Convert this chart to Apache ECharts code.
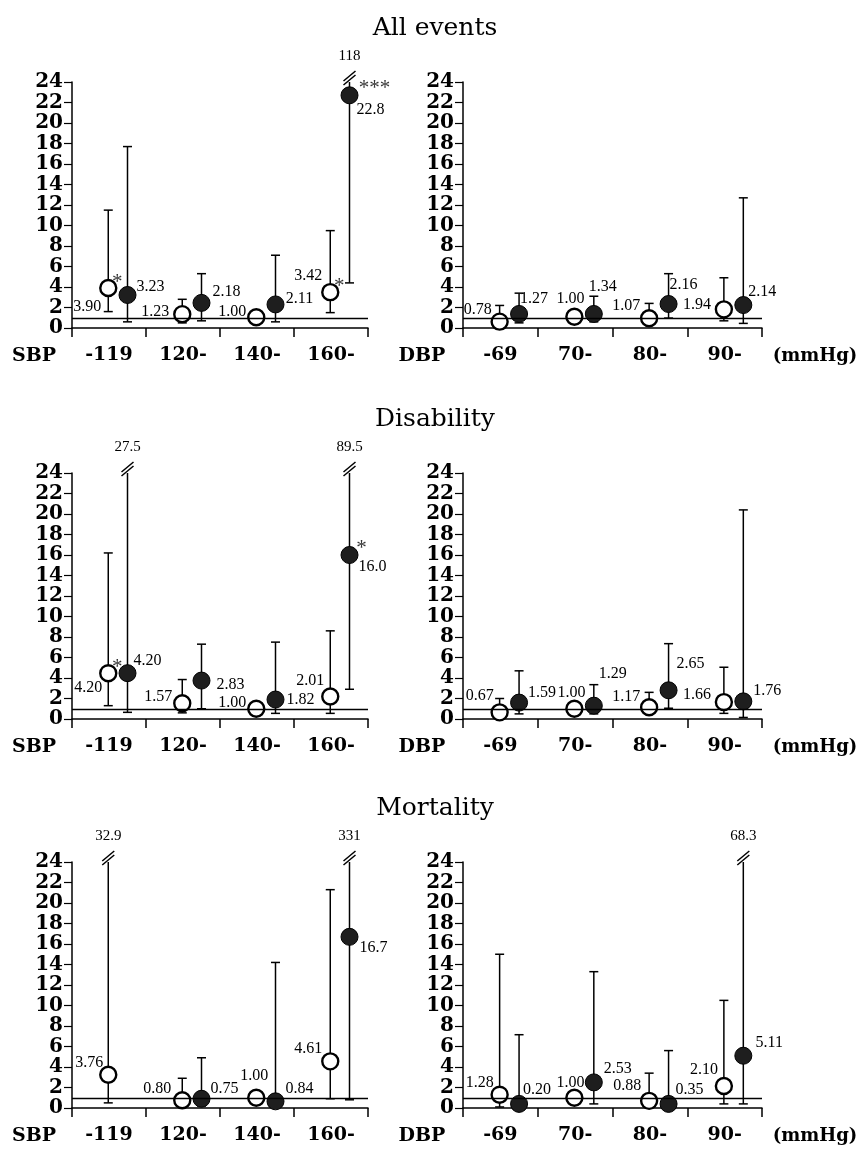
<!DOCTYPE html>
<html>
<head>
<meta charset="utf-8">
<script src="https://cdn.jsdelivr.net/npm/echarts@6/dist/echarts.min.js"></script>
<style>
html, body { margin: 0; padding: 0; background: #fff; }
#chart { width: 862px; height: 1149px; }
</style>
</head>
<body>
<div id="chart"></div>
<script>
// categories
const sbpCats = ['-119', '120-', '140-', '160-'];
const dbpCats = ['-69', '70-', '80-', '90-'];
const titles = ['All events', 'Disability', 'Mortality'];

// All events - SBP
const allSbpOpen = [3.9, 1.35, 1.05, 3.5];
const allSbpOpenCI = [[1.6, 11.5], [0.5, 2.8], null, [1.5, 9.5]];
const allSbpOpenText = ['3.90', '1.23', '1.00', '3.42'];
const allSbpOpenSig = ['*', '', '', '*'];
const allSbpFill = [3.22, 2.45, 2.3, 22.7];
const allSbpFillCI = [[0.6, 17.7], [0.7, 5.3], [0.6, 7.1], [4.4, 118]];
const allSbpFillText = ['3.23', '2.18', '2.11', '22.8'];
const allSbpFillSig = ['', '', '', '***'];

// All events - DBP
const allDbpOpen = [0.62, 1.1, 0.95, 1.82];
const allDbpOpenCI = [[0.3, 2.2], null, [0.4, 2.4], [0.7, 4.9]];
const allDbpOpenText = ['0.78', '1.00', '1.07', '1.94'];
const allDbpFill = [1.37, 1.37, 2.34, 2.24];
const allDbpFillCI = [[0.5, 3.4], [0.6, 3.1], [0.97, 5.3], [0.45, 12.7]];
const allDbpFillText = ['1.27', '1.34', '2.16', '2.14'];

// Disability - SBP
const disSbpOpen = [4.47, 1.53, 1.0, 2.2];
const disSbpOpenCI = [[1.3, 16.2], [0.6, 3.85], null, [0.55, 8.6]];
const disSbpOpenText = ['4.20', '1.57', '1.00', '2.01'];
const disSbpOpenSig = ['*', '', '', ''];
const disSbpFill = [4.47, 3.75, 1.9, 16.0];
const disSbpFillCI = [[0.65, 27.5], [1.0, 7.3], [0.55, 7.5], [2.9, 89.5]];
const disSbpFillText = ['4.20', '2.83', '1.82', '16.0'];
const disSbpFillSig = ['', '', '', '*'];

// Disability - DBP
const disDbpOpen = [0.65, 1.0, 1.14, 1.65];
const disDbpOpenCI = [[0.3, 2.0], null, [0.5, 2.6], [0.55, 5.05]];
const disDbpOpenText = ['0.67', '1.00', '1.17', '1.66'];
const disDbpFill = [1.6, 1.3, 2.8, 1.72];
const disDbpFillCI = [[0.5, 4.7], [0.5, 3.35], [1.05, 7.35], [0.15, 20.4]];
const disDbpFillText = ['1.59', '1.29', '2.65', '1.76'];

// Mortality - SBP
const morSbpOpen = [3.24, 0.75, 1.0, 4.55];
const morSbpOpenCI = [[0.5, 32.9], [0.3, 2.9], null, [0.9, 21.3]];
const morSbpOpenText = ['3.76', '0.80', '1.00', '4.61'];
const morSbpFill = [null, 0.9, 0.65, 16.7];
const morSbpFillCI = [null, [0.2, 4.9], [0.1, 14.2], [0.8, 331]];
const morSbpFillText = ['', '0.75', '0.84', '16.7'];

// Mortality - DBP
const morDbpOpen = [1.3, 1.0, 0.7, 2.15];
const morDbpOpenCI = [[0.1, 15.0], null, [0.2, 3.4], [0.4, 10.5]];
const morDbpOpenText = ['1.28', '1.00', '0.88', '2.10'];
const morDbpFill = [0.4, 2.5, 0.4, 5.1];
const morDbpFillCI = [[0.05, 7.15], [0.4, 13.3], [0.05, 5.6], [0.4, 68.3]];
const morDbpFillText = ['0.20', '2.53', '0.35', '5.11'];

const noSig = ['', '', '', ''];
const REF = 1;
const Y_MAX = 24;

const panels = [
  { row: 0, col: 0, cats: sbpCats, open: allSbpOpen, openCI: allSbpOpenCI, openText: allSbpOpenText, openSig: allSbpOpenSig,
    fill: allSbpFill, fillCI: allSbpFillCI, fillText: allSbpFillText, fillSig: allSbpFillSig },
  { row: 0, col: 1, cats: dbpCats, open: allDbpOpen, openCI: allDbpOpenCI, openText: allDbpOpenText, openSig: noSig,
    fill: allDbpFill, fillCI: allDbpFillCI, fillText: allDbpFillText, fillSig: noSig },
  { row: 1, col: 0, cats: sbpCats, open: disSbpOpen, openCI: disSbpOpenCI, openText: disSbpOpenText, openSig: disSbpOpenSig,
    fill: disSbpFill, fillCI: disSbpFillCI, fillText: disSbpFillText, fillSig: disSbpFillSig },
  { row: 1, col: 1, cats: dbpCats, open: disDbpOpen, openCI: disDbpOpenCI, openText: disDbpOpenText, openSig: noSig,
    fill: disDbpFill, fillCI: disDbpFillCI, fillText: disDbpFillText, fillSig: noSig },
  { row: 2, col: 0, cats: sbpCats, open: morSbpOpen, openCI: morSbpOpenCI, openText: morSbpOpenText, openSig: noSig,
    fill: morSbpFill, fillCI: morSbpFillCI, fillText: morSbpFillText, fillSig: noSig },
  { row: 2, col: 1, cats: dbpCats, open: morDbpOpen, openCI: morDbpOpenCI, openText: morDbpOpenText, openSig: noSig,
    fill: morDbpFill, fillCI: morDbpFillCI, fillText: morDbpFillText, fillSig: noSig }
];

// layout
const GRID_TOP = [82, 473, 862];
const GRID_H = 246;
const GRID_LEFT = [72, 463];
const GRID_W = [296, 299];
const OPEN_POS = 0.49;
const FILL_POS = 0.75;
const SERIF = '"DejaVu Serif", "Liberation Serif", serif';
const LBL_FONT = '"Liberation Serif", "DejaVu Serif", serif';

// label offsets (px from marker centre)
const openLblOff = [
  [[-21, 19], [-27, -2], [-24, -5], [-22, -16]],
  [[-22, -12], [-4, -18], [-23, -12], [-27, -5]],
  [[-20, 15], [-24, -7], [-24, -6], [-20, -16]],
  [[-20, -17], [-3, -16], [-23, -11], [-27, -7]],
  [[-19, -12], [-25, -12], [-2, -22], [-22, -13]],
  [[-20, -12], [-4, -15], [-22, -15], [-20, -16]]
];
const fillLblOff = [
  [[23, -8], [25, -11], [24, -6], [21, 14]],
  [[15, -15], [9, -27], [15, -19], [19, -13]],
  [[20, -12], [29, 4], [25, 0], [23, 12]],
  [[23, -10], [19, -32], [22, -27], [24, -11]],
  [[0, 0], [23, -10], [24, -13], [24, 11]],
  [[18, -14], [24, -14], [21, -14], [26, -13]]
];

function renderBar(params, api) {
  const x = api.value(0), lo = api.value(1), hi = api.value(2);
  const broken = hi > Y_MAX;
  const pLo = api.coord([x, lo]);
  const pHi = api.coord([x, broken ? Y_MAX : hi]);
  const st = { stroke: '#000', lineWidth: 1.5 };
  const cap = 4.5;
  const kids = [
    { type: 'line', shape: { x1: pLo[0], y1: pLo[1], x2: pHi[0], y2: pHi[1] }, style: st },
    { type: 'line', shape: { x1: pLo[0] - cap, y1: pLo[1], x2: pLo[0] + cap, y2: pLo[1] }, style: st }
  ];
  if (broken) {
    const cx = pHi[0], cy = pHi[1];
    kids.push({ type: 'line', shape: { x1: cx - 6, y1: cy + 3, x2: cx + 6, y2: cy - 7 }, style: st });
    kids.push({ type: 'line', shape: { x1: cx - 6, y1: cy - 1, x2: cx + 6, y2: cy - 11 }, style: st });
    kids.push({ type: 'text', x: cx, y: cy - 26,
      style: { text: String(hi), textAlign: 'center', textVerticalAlign: 'middle',
               font: '15px ' + LBL_FONT, fill: '#000' } });
  } else {
    kids.push({ type: 'line', shape: { x1: pHi[0] - cap, y1: pHi[1], x2: pHi[0] + cap, y2: pHi[1] }, style: st });
  }
  return { type: 'group', children: kids };
}

const option = {
  backgroundColor: '#fff',
  animation: false,
  grid: [], xAxis: [], yAxis: [], series: [], graphic: []
};

panels.forEach((p, k) => {
  option.grid.push({ left: GRID_LEFT[p.col], top: GRID_TOP[p.row], width: GRID_W[p.col], height: GRID_H });
  option.xAxis.push({
    type: 'value', gridIndex: k, min: 0, max: 4, interval: 1,
    axisLine: { lineStyle: { color: '#000', width: 1.5 } },
    axisTick: { show: true, length: 9, lineStyle: { color: '#000', width: 1.5 } },
    axisLabel: { show: false },
    splitLine: { show: false }
  });
  option.yAxis.push({
    type: 'value', gridIndex: k, min: 0, max: Y_MAX, interval: 2,
    axisLine: { show: true, lineStyle: { color: '#000', width: 1.5 } },
    axisTick: { show: true, length: 8, lineStyle: { color: '#000', width: 1.2 } },
    axisLabel: { color: '#000', fontFamily: SERIF, fontWeight: 'bold', fontSize: 20, margin: 9 },
    splitLine: { show: false }
  });
});
// category label axes
panels.forEach((p, k) => {
  option.xAxis.push({
    type: 'category', gridIndex: k, data: p.cats, position: 'bottom',
    axisLine: { show: false }, axisTick: { show: false },
    axisLabel: { color: '#000', fontFamily: SERIF, fontWeight: 'bold', fontSize: 19, margin: 18 }
  });
});

panels.forEach((p, k) => {
  const bars = [];
  p.cats.forEach((c, i) => {
    if (p.openCI[i]) bars.push([i + OPEN_POS, p.openCI[i][0], p.openCI[i][1]]);
    if (p.fillCI[i]) bars.push([i + FILL_POS, p.fillCI[i][0], p.fillCI[i][1]]);
  });
  option.series.push({
    type: 'custom', xAxisIndex: k, yAxisIndex: k, renderItem: renderBar, data: bars, clip: false,
    markLine: {
      silent: true, symbol: 'none', label: { show: false },
      lineStyle: { color: '#000', width: 1.3, type: 'solid' },
      data: [{ yAxis: REF }]
    }
  });

  const lbl = (text, off, size) => ({
    show: true, position: 'inside', offset: off, formatter: text,
    color: '#000', fontFamily: LBL_FONT, fontSize: size || 16
  });

  const openData = [], fillData = [], sigData = [];
  p.cats.forEach((c, i) => {
    if (p.open[i] != null) {
      openData.push({ value: [i + OPEN_POS, p.open[i]], label: lbl(p.openText[i], openLblOff[k][i]) });
      if (p.openSig[i]) sigData.push({ value: [i + OPEN_POS, p.open[i]], label: lbl(p.openSig[i], [9, -6], 21) });
    }
    if (p.fill[i] != null) {
      fillData.push({ value: [i + FILL_POS, p.fill[i]], label: lbl(p.fillText[i], fillLblOff[k][i]) });
      if (p.fillSig[i]) sigData.push({ value: [i + FILL_POS, p.fill[i]],
        label: lbl(p.fillSig[i], p.fillSig[i].length > 1 ? [25, -7] : [12, -7], 21) });
    }
  });

  option.series.push({
    type: 'scatter', xAxisIndex: k, yAxisIndex: k, symbol: 'circle', symbolSize: 16,
    itemStyle: { color: '#fff', borderColor: '#000', borderWidth: 2.4, opacity: 1 },
    data: openData, z: 3
  });
  option.series.push({
    type: 'scatter', xAxisIndex: k, yAxisIndex: k, symbol: 'circle', symbolSize: 17,
    itemStyle: { color: '#1e1e1e', borderColor: '#000', borderWidth: 1, opacity: 1 },
    data: fillData, z: 3
  });
  option.series.push({
    type: 'scatter', xAxisIndex: k, yAxisIndex: k, symbolSize: 1,
    itemStyle: { color: 'rgba(0,0,0,0)' },
    data: sigData, z: 4
  });
});

// titles and axis captions
GRID_TOP.forEach((top, r) => {
  const base = top + GRID_H + 28;
  option.graphic.push({ type: 'text', x: 435, y: top - 54,
    style: { text: titles[r], textAlign: 'center', textVerticalAlign: 'middle', font: '25px ' + SERIF, fill: '#000' } });
  option.graphic.push({ type: 'text', x: 34, y: base,
    style: { text: 'SBP', textAlign: 'center', textVerticalAlign: 'middle', font: 'bold 19px ' + SERIF, fill: '#000' } });
  option.graphic.push({ type: 'text', x: 422, y: base,
    style: { text: 'DBP', textAlign: 'center', textVerticalAlign: 'middle', font: 'bold 19px ' + SERIF, fill: '#000' } });
  option.graphic.push({ type: 'text', x: 815, y: base,
    style: { text: '(mmHg)', textAlign: 'center', textVerticalAlign: 'middle', font: 'bold 18px ' + SERIF, fill: '#000' } });
});

const chart = echarts.init(document.getElementById('chart'));
chart.setOption(option);
</script>
</body>
</html>
